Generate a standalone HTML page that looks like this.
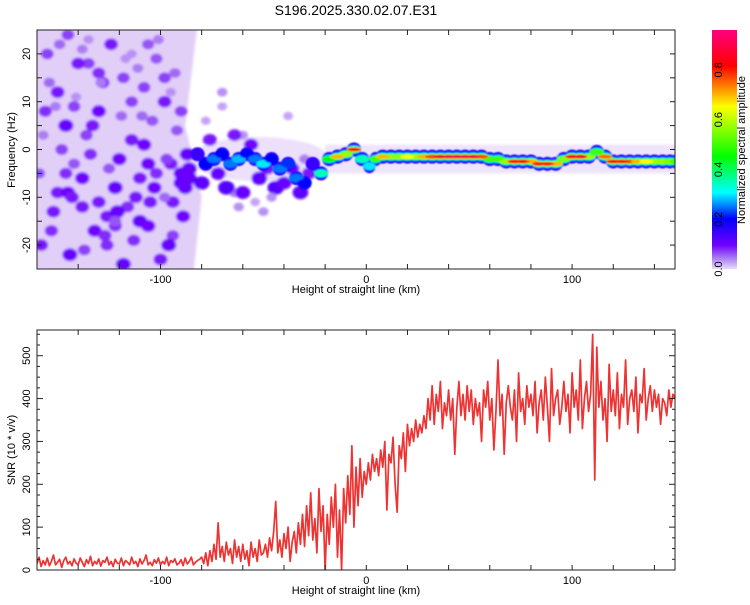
<!DOCTYPE html>
<html><head><meta charset="utf-8">
<style>
body{margin:0;background:#fff;width:750px;height:600px;overflow:hidden;font-family:"Liberation Sans",sans-serif;}
svg text{font-family:"Liberation Sans",sans-serif;fill:#000;}
</style></head>
<body>
<svg id="chart" width="750" height="600" viewBox="0 0 750 600" xmlns="http://www.w3.org/2000/svg">
<defs>
<linearGradient id="cmap" x1="0" y1="1" x2="0" y2="0">
<stop offset="0" stop-color="#eadcfb"/>
<stop offset="0.05" stop-color="#a472f2"/>
<stop offset="0.1" stop-color="#7000ff"/>
<stop offset="0.21" stop-color="#0000ff"/>
<stop offset="0.32" stop-color="#00ffff"/>
<stop offset="0.47" stop-color="#00ff00"/>
<stop offset="0.68" stop-color="#ffff00"/>
<stop offset="0.85" stop-color="#ff0000"/>
<stop offset="1" stop-color="#ff0080"/>
</linearGradient>
<clipPath id="clipTop"><rect x="37" y="30" width="638" height="239"/></clipPath>
<clipPath id="clipBot"><rect x="37" y="330" width="638" height="240"/></clipPath>
<filter id="soft" x="-5%" y="-5%" width="110%" height="110%"><feGaussianBlur stdDeviation="1.3"/></filter>
<filter id="soft2" x="-5%" y="-20%" width="110%" height="140%"><feGaussianBlur stdDeviation="0.7"/></filter>
</defs>
<text x="356" y="15" font-size="14" text-anchor="middle">S196.2025.330.02.07.E31</text>
<g id="topPanel"></g>
<g id="bot"></g>
<g id="cbar"></g>
</svg>
<script>
// ---- data ----
const snrStart = -160;
const snrValues = [
15,30,8,22,12,28,10,20,35,12,18,25,6,22,30,14,20,10,26,16,
12,28,18,8,24,15,32,10,20,14,26,9,22,18,30,12,20,8,25,16,
14,28,10,22,18,12,30,15,20,8,26,14,22,35,12,18,10,24,16,28,
12,20,14,30,10,22,18,26,12,16,24,10,28,14,20,30,12,18,22,25,
30,15,40,10,45,20,60,25,110,30,55,20,65,35,50,15,70,30,55,20,60,25,45,10,65,30,50,20,70,35,
40,60,30,75,45,90,160,40,70,30,85,50,100,20,65,90,40,110,60,130,55,150,80,180,70,120,40,190,90,150,
0,130,60,170,100,200,30,140,0,190,110,220,130,290,100,240,150,260,170,230,
200,250,210,270,230,260,220,280,240,300,140,270,250,310,200,135,290,260,320,230,340,290,330,300,350,310,340,320,360,330,
400,350,430,340,410,370,440,330,390,360,
420,350,400,270,380,440,360,410,350,430,
370,420,340,400,360,390,300,420,380,440,
350,400,280,370,490,360,410,270,390,430,
380,350,420,300,460,370,400,340,430,380,
410,360,440,320,390,420,350,450,380,300,
470,360,400,420,340,380,440,370,410,320,
460,380,420,350,490,330,400,440,370,410,
550,210,520,380,440,350,400,300,480,370,
420,360,460,330,410,380,490,340,400,420,
370,450,320,410,390,470,350,400,430,370,
420,380,410,340,400,390,360,420,380,410,400];
const ridgeX = [-84,-80,-76,-72,-68,-64,-60,-56,-52,-48,-44,-40,-36,-32,-28,-24,-20,-16,-12,-8,-4,0,3,6,10,14,18,22,26,30,34,38,42,46,50,54,58,62,66,70,74,78,82,86,90,94,98,102,106,110,114,118,122,126,130,134,138,142,146,149];
const ridgeF = [-1,-3,-2,-1,-3,-2,-1,-2,-3,-2,-4,-3,-6,-7,-3,-5,-2,-1.5,-1,0,-2,-3.5,-2,-1.5,-1.5,-1.5,-1.5,-1.5,-1.5,-1.5,-1.5,-1.5,-1.5,-1.5,-1.5,-1.5,-2,-2,-2.5,-2.5,-2.5,-2.5,-3,-3,-3,-2,-1.5,-1.5,-1.5,-0.5,-1.5,-2.5,-2.5,-2.5,-2.5,-2.5,-2.5,-2.5,-2.5,-2.5];
const ridgeA = [0.15,0.2,0.25,0.2,0.25,0.28,0.2,0.25,0.3,0.2,0.25,0.22,0.25,0.2,0.15,0.35,0.45,0.7,0.6,0.85,0.35,0.3,0.5,0.7,0.6,0.6,0.65,0.6,0.7,0.8,0.85,0.9,0.9,0.9,0.88,0.8,0.5,0.5,0.6,0.85,0.85,0.7,0.85,0.85,0.7,0.55,0.85,0.85,0.6,0.5,0.75,0.85,0.85,0.8,0.7,0.65,0.6,0.6,0.55,0.5];
const noiseX = [-155,-150,-146,-142,-138,-135,-130,-126,-122,-118,-114,-110,-106,-102,-98,-94,-90,-152,-144,-136,-128,-120,-112,-104,-96,-148,-140,-132,-124,-116,-108,-100,-92,-156,-138,-126,-114,-102,-90,-150,-134,-118,-106,-95,-88,-145,-130,-110,-98,-86,-158,-142,-122,-108,-94,-86,-70,-60,-50,-64,
-157,-153,-149,-145,-141,-137,-133,-129,-125,-121,-117,-113,-109,-105,-101,-97,-93,-89,
-159,-151,-143,-135,-127,-119,-111,-103,-95,-87,
-154,-146,-138,-130,-122,-114,-106,-98,-90,
-80,-76,-72,-68,-64,-60,-56,-52,-48,-44,-40,-36,-32,-28,-78,-70,-62,-54,-46,-38,-30];
const noiseF = [20,12,5,-3,-12,18,8,-20,-8,15,2,-15,22,-5,10,-18,-7,-13,-22,3,14,-2,-10,6,-20,0,18,-17,22,-12,13,-23,4,8,-6,-14,10,19,-5,-9,-1,-24,-16,-3,-8,24,16,-6,15,-4,-20,9,-16,1,-11,-6,12,3,-13,-9,
3,-17,22,-9,11,-21,5,14,-4,-13,19,-19,7,-11,23,-2,16,-14,
-5,9,-10,23,-18,7,17,-8,12,-1,
14,-5,21,-11,-15,20,-3,-10,8,
-7,2,-5,-8,3,-9,1,-6,-4,-8,-7,-4,-9,-5,6,9,-12,-11,-10,7,-2];
const noiseA = [0.08,0.1,0.12,0.07,0.1,0.08,0.11,0.09,0.12,0.08,0.1,0.12,0.07,0.09,0.1,0.08,0.12,0.1,0.12,0.08,0.09,0.11,0.1,0.07,0.12,0.08,0.1,0.11,0.1,0.09,0.08,0.1,0.07,0.09,0.11,0.1,0.08,0.07,0.12,0.1,0.09,0.12,0.11,0.1,0.12,0.08,0.09,0.1,0.08,0.12,0.1,0.08,0.09,0.11,0.1,0.12,0.04,0.04,0.04,0.05,
0.05,0.09,0.06,0.11,0.04,0.08,0.1,0.05,0.07,0.12,0.04,0.09,0.06,0.1,0.05,0.08,0.06,0.11,
0.07,0.05,0.1,0.04,0.09,0.06,0.05,0.11,0.04,0.12,
0.06,0.09,0.05,0.1,0.07,0.04,0.11,0.06,0.08,
0.13,0.1,0.12,0.14,0.1,0.12,0.11,0.13,0.1,0.14,0.12,0.11,0.13,0.1,0.03,0.03,0.04,0.03,0.04,0.03,0.05];
const xTicks=[-100,0,100];
const fTicks=[-20,-10,0,10,20];
const snrTicks=[0,100,200,300,400,500];
const cTicks=[0,0.2,0.4,0.6,0.8];

// ---- scales ----
const NS="http://www.w3.org/2000/svg";
const X0=37,X1=675, KMIN=-160,KMAX=150;
const sx=v=>X0+(v-KMIN)/(KMAX-KMIN)*(X1-X0);
const TY0=30,TY1=269, FMIN=-25,FMAX=25;
const sf=v=>TY1-(v-FMIN)/(FMAX-FMIN)*(TY1-TY0);
const BY0=330,BY1=570, SMAX=560;
const ss=v=>BY1-v/SMAX*(BY1-BY0);
const CB0=30,CB1=269,CMAX=0.96;
const sc=v=>CB1-v/CMAX*(CB1-CB0);
function el(tag,attrs,parent){const e=document.createElementNS(NS,tag);for(const k in attrs)e.setAttribute(k,attrs[k]);parent.appendChild(e);return e;}
function cmap(a){
 const st=[[0,[234,220,251]],[0.05,[164,114,242]],[0.1,[112,0,255]],[0.2,[0,0,255]],[0.31,[0,255,255]],[0.45,[0,255,0]],[0.65,[255,255,0]],[0.82,[255,0,0]],[0.96,[255,0,128]]];
 for(let i=1;i<st.length;i++){if(a<=st[i][0]){const t=(a-st[i-1][0])/(st[i][0]-st[i-1][0]);const c=st[i-1][1].map((v,j)=>Math.round(v+(st[i][1][j]-v)*t));return `rgb(${c})`;}}
 return 'rgb(255,0,128)';
}

// ---- top panel ----
const topPanel=document.getElementById('topPanel');
const tg=el('g',{'clip-path':'url(#clipTop)'},topPanel);


const ng=el('g',{filter:'url(#soft)'},tg);
el('path',{d:`M${sx(-162)} ${TY0-5} L${sx(-82)} ${TY0-5} L${sx(-88)} ${sf(5)} L${sx(-80)} ${sf(-10)} L${sx(-84)} ${TY1+5} L${sx(-162)} ${TY1+5}Z`,fill:'#e2cff8'},ng);
el('ellipse',{cx:sx(-52),cy:sf(-2),rx:sx(-20)-sx(-52)+4,ry:22,fill:'#ece0fb'},ng);
el('rect',{x:sx(-20),y:sf(1),width:sx(152)-sx(-20),height:sf(-5)-sf(1),fill:'#eee4fb'},ng);
for(let i=0;i<noiseX.length;i++){
 const r=4+noiseA[i]*30;
 const c=el('ellipse',{cx:sx(noiseX[i]),cy:sf(noiseF[i]),rx:r,ry:r*0.85,fill:cmap(noiseA[i]*0.9)},ng);
 
 
}
const rg=el('g',{filter:'url(#soft2)'},tg);
const layers=[[0.05,7],[0.1,5],[0.2,4],[0.31,3.2],[0.45,2.6],[0.65,2],[0.82,1.4]];
for(const [lv,ry] of layers){
 for(let i=0;i<ridgeX.length;i++){
  if(ridgeA[i]<lv)continue;
  const w=(i+1<ridgeX.length)?(sx(ridgeX[i+1])-sx(ridgeX[i])):6;
  const e=el('ellipse',{cx:sx(ridgeX[i])+w/2,cy:sf(ridgeF[i]),rx:w/2+3,ry:ry,fill:cmap(Math.min(ridgeA[i],lv+0.12))},rg);
  
  
 }
}
function drawFrame(g,y0,y1){
 el('rect',{x:X0,y:y0,width:X1-X0,height:y1-y0,fill:'none',stroke:'#222','stroke-width':1},g);
 for(let v=-160;v<=150;v+=20){const x=sx(v);el('line',{x1:x,y1:y1,x2:x,y2:y1-5,stroke:'#222'},g);el('line',{x1:x,y1:y0,x2:x,y2:y0+5,stroke:'#222'},g);}
 for(const v of xTicks){const t=el('text',{x:sx(v),y:y1+14,'font-size':11,'text-anchor':'middle'},g);t.textContent=v;
  
  }
 const xl=el('text',{x:356,y:y1+24,'font-size':11,'text-anchor':'middle'},g);xl.textContent='Height of straight line (km)';
 
 
}
drawFrame(topPanel,TY0,TY1);
for(let v=-25;v<=25;v+=5){const y=sf(v);el('line',{x1:X0,y1:y,x2:X0+5,y2:y,stroke:'#222'},topPanel);el('line',{x1:X1,y1:y,x2:X1-5,y2:y,stroke:'#222'},topPanel);}
for(const v of fTicks){const y=sf(v);const t=el('text',{x:30,y:y,'font-size':11,'text-anchor':'middle',transform:`rotate(-90 30 ${y})`},topPanel);t.textContent=v;
 
 }
const yt=el('text',{x:15,y:150,'font-size':11,'text-anchor':'middle',transform:'rotate(-90 15 150)'},topPanel);yt.textContent='Frequency (Hz)';



// ---- colorbar ----
const cb=document.getElementById('cbar');
el('rect',{x:712,y:CB0,width:25,height:CB1-CB0,fill:'url(#cmap)'},cb);
for(const v of cTicks){const y=sc(v);const t=el('text',{x:722,y:y,'font-size':11,'text-anchor':'middle',transform:`rotate(-90 722 ${y})`},cb);t.textContent=v.toFixed(1);
 
 }
const ct=el('text',{x:745,y:150,'font-size':11,'text-anchor':'middle',transform:'rotate(-90 745 150)'},cb);ct.textContent='Normalized spectral amplitude';



// ---- bottom panel ----
const bot=document.getElementById('bot');
const bg=el('g',{'clip-path':'url(#clipBot)'},bot);
let d='';
snrValues.forEach((v,i)=>{d+=(i?'L':'M')+sx(snrStart+i).toFixed(2)+' '+ss(v).toFixed(2);});
const snrLine=el('path',{d:d,fill:'none',stroke:'#ee3333','stroke-width':1.7,'stroke-linejoin':'round'},bg);


drawFrame(bot,BY0,BY1);
for(let v=0;v<=550;v+=25){const y=ss(v);const l=v%100===0?6:3;el('line',{x1:X0,y1:y,x2:X0+l,y2:y,stroke:'#222'},bot);el('line',{x1:X1,y1:y,x2:X1-l,y2:y,stroke:'#222'},bot);}
for(const v of snrTicks){const y=ss(v);const t=el('text',{x:30,y:y,'font-size':11,'text-anchor':'middle',transform:`rotate(-90 30 ${y})`},bot);t.textContent=v;
 
 }
const by=el('text',{x:15,y:450,'font-size':11,'text-anchor':'middle',transform:'rotate(-90 15 450)'},bot);by.textContent='SNR (10 * v/v)';


</script>
</body></html>
